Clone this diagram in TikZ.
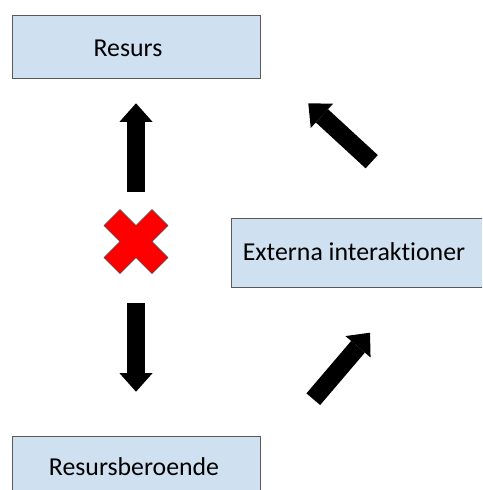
\documentclass[tikz,border=0pt]{standalone}
\usepackage{fontspec}
\setmainfont[Ligatures=NoCommon]{Carlito}
\usetikzlibrary{arrows.meta}
\definecolor{boxfill}{HTML}{CFE0F0}
\definecolor{boxline}{HTML}{595959}
\definecolor{xred}{HTML}{FF0000}
\tikzset{
  box/.style={draw=boxline, fill=boxfill, line width=1pt, rectangle, inner sep=0pt},
  lbl/.style={inner sep=0pt, font=\fontsize{25.8}{30}\selectfont, anchor=base},
  blockarrow/.style={draw=black, line width=18pt,
    -{Triangle[length=18.5pt, width=33pt, line width=0pt]}},
  crossmark/.style={fill=xred, draw=black!70, line width=0.6pt, line join=miter}
}
\begin{document}
\begin{tikzpicture}[x=1pt, y=-1pt]
\useasboundingbox (0,0) rectangle (482,490);
\clip (0,0) rectangle (482,490);
% boxes
\node[box, minimum width=248pt, minimum height=63pt] (resurs) at (136,46.5) {};
\node[lbl] (resurstxt) at (128,56) {Resurs};
\node[box, minimum width=253pt, minimum height=69pt] (ext) at (357.5,252.5) {};
\node[lbl] (exttxt) at (354,260) {Externa interaktioner};
\node[box, minimum width=248pt, minimum height=63pt] (rb) at (136,467.5) {};
\node[lbl] (rbtxt) at (134,475) {Resursberoende};
% arrow end points
\coordinate (upA) at (136,191.7);
\coordinate (upB) at (136,103.3);
\coordinate (dnA) at (136,303.3);
\coordinate (dnB) at (136,391.7);
\coordinate (ulA) at (371.7,161.7);
\coordinate (ulB) at (308.3,103.3);
\coordinate (lrA) at (313.3,399.2);
\coordinate (lrB) at (370,332.7);
\draw[blockarrow] (upA) -- (upB);
\draw[blockarrow] (dnA) -- (dnB);
\draw[blockarrow] (ulA) -- (ulB);
\draw[blockarrow] (lrA) -- (lrB);
% red cross
\coordinate (xc) at (136,241.5);
\draw[crossmark, shift={(xc)}]
  (-32,-16) -- (-16,-32) -- (0,-16) -- (16,-32) -- (32,-16) -- (16,0)
  -- (32,16) -- (16,32) -- (0,16) -- (-16,32) -- (-32,16) -- (-16,0) -- cycle;
\end{tikzpicture}
\end{document}
